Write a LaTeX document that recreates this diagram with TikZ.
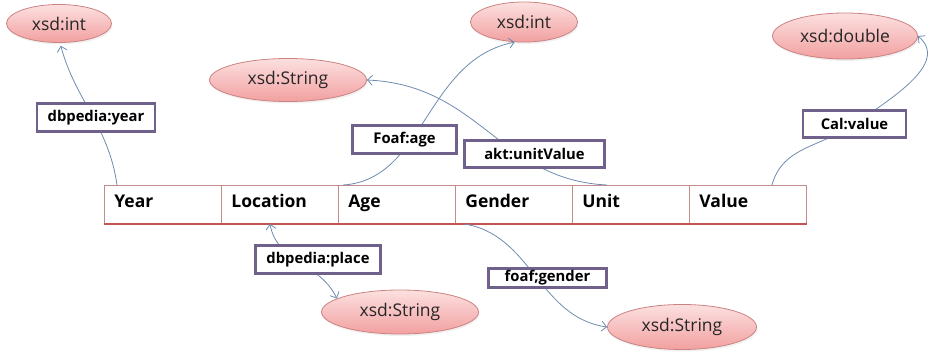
\documentclass[tikz,border=0pt]{standalone}
\usepackage{fontspec}
\setmainfont{Open Sans}
\usetikzlibrary{arrows.meta,shapes.geometric,shadows}
\definecolor{conn}{RGB}{110,140,175}
\definecolor{boxline}{RGB}{112,96,140}
\definecolor{elltop}{RGB}{252,224,224}
\definecolor{ellbot}{RGB}{242,160,160}
\definecolor{elldraw}{RGB}{205,130,130}
\definecolor{tabline}{RGB}{195,140,140}
\definecolor{tabred}{RGB}{195,85,80}
\tikzset{
  dtype/.style={ellipse, draw=elldraw, line width=0.8pt, top color=elltop, bottom color=ellbot,
    inner sep=0pt, font=\fontsize{17.5}{20}\selectfont, text=black!85,
    drop shadow={opacity=0.12,shadow xshift=1pt,shadow yshift=-2pt}},
  prop/.style={draw=boxline, line width=2.6pt, fill=white, inner sep=0pt,
    font=\bfseries\fontsize{14.8}{17}\selectfont},
  cell/.style={draw=tabline, line width=0.8pt, fill=white, minimum width=117pt,
    minimum height=38pt, anchor=north west, inner sep=0pt, text width=97pt, align=left,
    text height=12.5pt, text depth=7pt,
    font=\bfseries\fontsize{17.5}{20}\selectfont},
  con/.style={draw=conn, line width=0.8pt},
  >={Straight Barb[length=5pt,width=10pt]}
}
\begin{document}
\begin{tikzpicture}[x=1pt,y=1pt]
\useasboundingbox (0,0) rectangle (940,-358);
% table
\node[cell] (year) at (104,-185) {Year};
\node[cell] (location) at (221,-185) {Location};
\node[cell] (age) at (338,-185) {Age};
\node[cell] (gender) at (455,-185) {Gender};
\node[cell] (unit) at (572,-185) {Unit};
\node[cell] (value) at (689,-185) {Value};
\draw[tabred, line width=2.5pt] (year.south west) -- (value.south east);
% ellipses
\node[dtype, minimum width=105pt, minimum height=38pt] (e1) at (59,-23.5) {xsd:int};
\node[dtype, minimum width=157pt, minimum height=43pt] (e2) at (288,-80) {xsd:String};
\node[dtype, minimum width=107pt, minimum height=40pt] (e3) at (524,-22) {xsd:int};
\node[dtype, minimum width=145pt, minimum height=46pt] (e4) at (845,-36) {xsd:double};
\node[dtype, minimum width=157pt, minimum height=44pt] (e5) at (400,-312) {xsd:String};
\node[dtype, minimum width=149pt, minimum height=45pt] (e6) at (682,-327) {xsd:String};
% connectors
\draw[con,->,shorten >=3pt] ([xshift=13pt]year.north west) to[out=98,in=-75] ([xshift=1pt]e1.south);
\draw[con,->] ([xshift=5pt]age.north west) .. controls (425,-180) and (425,-60) .. (e3.245);
\draw[con,->] ([xshift=35pt]unit.north west) .. controls (500,-180) and (480,-85) .. (e2.east);
\draw[con,->] ([xshift=83pt]value.north west) to[out=75,in=215] (854.5,-124) to[out=35,in=-40] (e4.east);
\draw[con,<->] ([xshift=49pt]location.south west) to[out=-80,in=115] (e5.168);
\draw[con,->] ([xshift=8pt]gender.south west) to[out=-8,in=172] (e6.west);
% property labels
\node[prop, minimum width=118pt, minimum height=28.5pt] (l1) at (96,-117.5) {dbpedia:year};
\node[prop, minimum width=104pt, minimum height=28pt] (l2) at (404.5,-139.5) {Foaf:age};
\node[prop, minimum width=140pt, minimum height=27.5pt] (l3) at (534.5,-154) {akt:unitValue};
\node[prop, minimum width=103pt, minimum height=27.5pt] (l4) at (854.5,-124) {Cal:value};
\node[prop, minimum width=125pt, minimum height=28pt] (l5) at (318,-259.5) {dbpedia:place};
\node[prop, minimum width=118pt, minimum height=19.5pt] (l6) at (547.5,-278) {foaf;gender};
\end{tikzpicture}
\end{document}
